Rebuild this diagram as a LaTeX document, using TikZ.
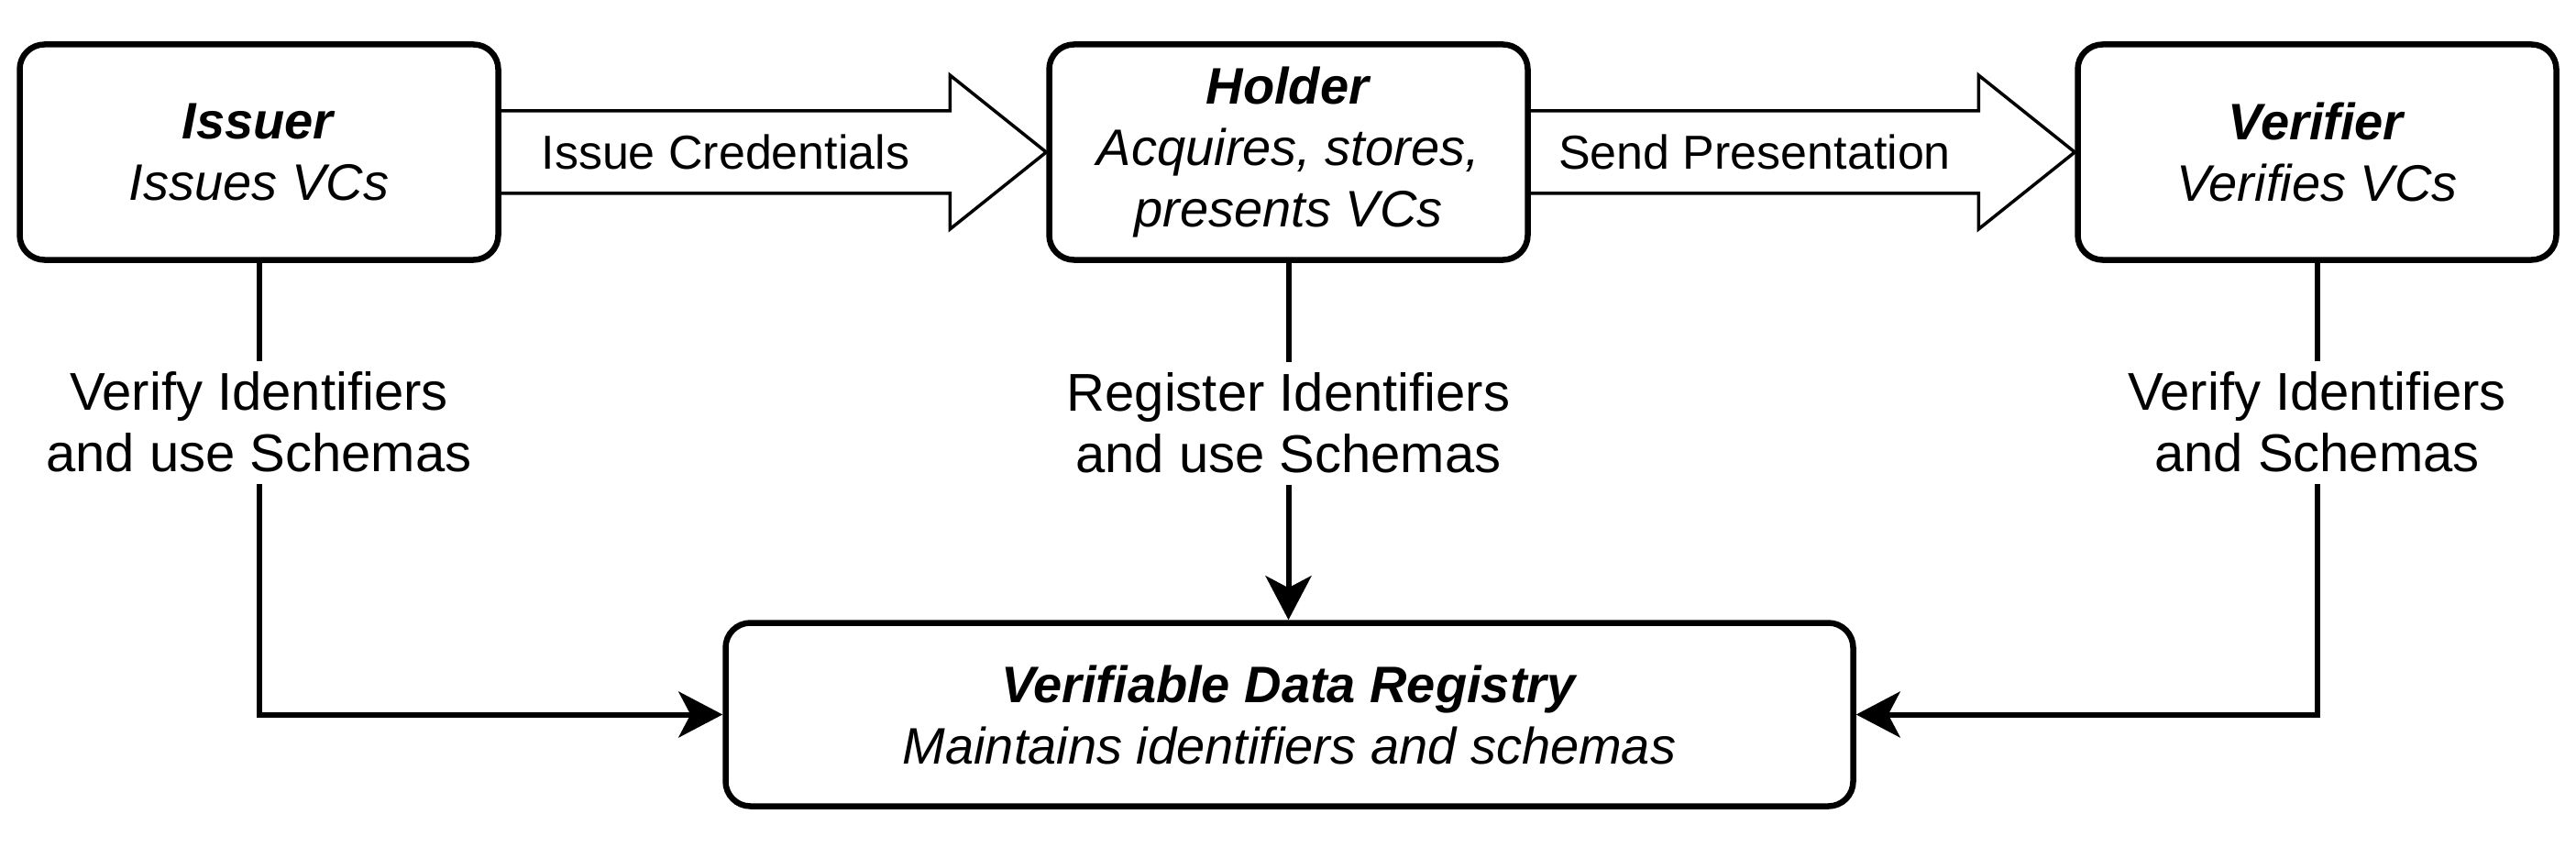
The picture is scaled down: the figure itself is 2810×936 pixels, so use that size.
\documentclass[tikz,border=0pt]{standalone}
\usepackage{fontspec}
\setmainfont{Liberation Sans}
\usetikzlibrary{arrows.meta,calc}
\begin{document}
\begin{tikzpicture}[x=1pt,y=-1pt,
  box/.style={draw, line width=6.5pt, rounded corners=27pt, align=center, inner sep=0pt,
    minimum width=522pt, minimum height=235pt, font=\fontsize{56}{67}\selectfont},
  regbox/.style={box, minimum width=1230pt, minimum height=200pt},
  barrow/.style={draw, line width=3.5pt, line join=miter},
  blbl/.style={inner sep=0pt, font=\fontsize{52}{62}\selectfont},
  elbl/.style={align=center, inner sep=12pt, font=\fontsize{58}{67}\selectfont},
  conn/.style={draw, line width=6pt},
  tip/.style={-{Stealth[length=48pt,width=50pt,inset=13pt]}}
]
\useasboundingbox (0,0) rectangle (2810,936);

\node[box] (issuer) at (282.5,166) {\textbf{\textit{Issuer}}\\\textit{Issues VCs}};
\node[box] (holder) at (1405.5,166) {\textbf{\textit{Holder}}\\\textit{Acquires, stores,}\\\textit{presents VCs}};
\node[box] (verifier) at (2527.5,166) {\textbf{\textit{Verifier}}\\\textit{Verifies VCs}};
\node[regbox] (reg) at (1406.5,779.5) {\textbf{\textit{Verifiable Data Registry}}\\\textit{Maintains identifiers and schemas}};

% block arrows
\coordinate (h1) at ($(holder.west)+(-105,0)$);
\draw[barrow] ($(issuer.east)+(0,-45)$) -- ($(h1)+(0,-45)$) -- ($(h1)+(0,-84)$) -- (holder.west)
  -- ($(h1)+(0,84)$) -- ($(h1)+(0,45)$) -- ($(issuer.east)+(0,45)$);
\node[blbl] (ic) at ($(issuer.east)!0.5!(h1)$) {Issue Credentials};

\coordinate (h2) at ($(verifier.west)+(-105,0)$);
\draw[barrow] ($(holder.east)+(0,-45)$) -- ($(h2)+(0,-45)$) -- ($(h2)+(0,-84)$) -- (verifier.west)
  -- ($(h2)+(0,84)$) -- ($(h2)+(0,45)$) -- ($(holder.east)+(0,45)$);
\node[blbl] (sp) at ($(holder.east)!0.5!(h2)$) {Send Presentation};

% connectors to registry
\node[elbl] (l1) at ($(issuer.south)+(0,174)$) {Verify Identifiers\\and use Schemas};
\node[elbl] (l2) at ($(holder.south)+(0,175)$) {Register Identifiers\\and use Schemas};
\node[elbl] (l3) at ($(verifier.south)+(0,174)$) {Verify Identifiers\\and Schemas};

\draw[conn] (issuer.south) -- (l1.north);
\draw[conn,tip] (l1.south) |- (reg.west);
\draw[conn] (holder.south) -- (l2.north);
\draw[conn,tip] (l2.south) -- (l2.south |- reg.north);
\draw[conn] (verifier.south) -- (l3.north);
\draw[conn,tip] (l3.south) |- (reg.east);
\end{tikzpicture}
\end{document}
